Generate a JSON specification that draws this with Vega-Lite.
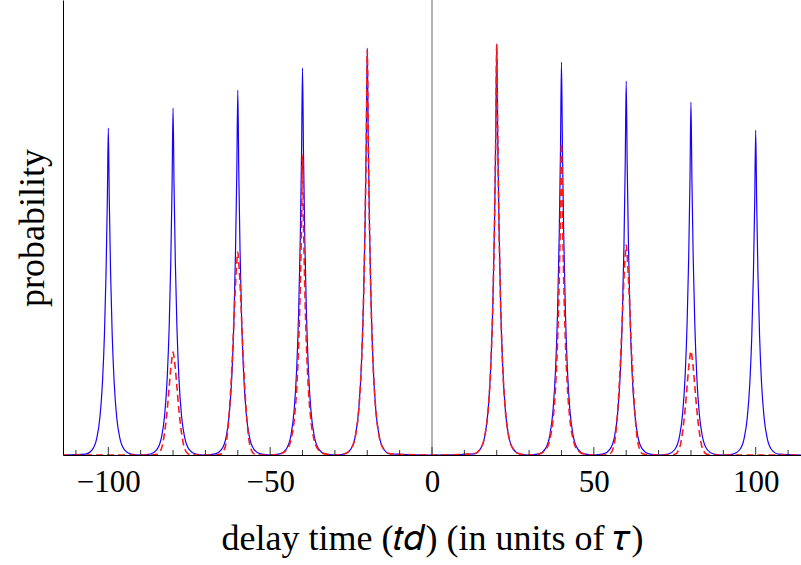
{
  "$schema": "https://vega.github.io/schema/vega-lite/v6.json",
  "autosize": {"type": "none"},
  "padding": {"left": 63, "top": 0, "right": 0, "bottom": 110},
  "width": 738,
  "height": 455,
  "background": "white",
  "config": {"view": {"stroke": null}, "font": "Liberation Serif"},
  "datasets": {
    "blue": [
      {"t":-114,"p":0},
      {"t":-107,"p":0.9},{"t":-105,"p":5.1},{"t":-103.6,"p":16.3},{"t":-102.6,"p":37.5},{"t":-101.8,"p":73.0},{"t":-101.2,"p":120.3},{"t":-100.7,"p":182.5},{"t":-100.3,"p":254.7},{"t":-100,"p":327},{"t":-99.7,"p":254.7},{"t":-99.3,"p":182.5},{"t":-98.8,"p":120.3},{"t":-98.2,"p":73.0},{"t":-97.4,"p":37.5},{"t":-96.4,"p":16.3},{"t":-95,"p":5.1},{"t":-93,"p":0.9},
      {"t":-90,"p":0},
      {"t":-87,"p":1.0},{"t":-85,"p":5.4},{"t":-83.6,"p":17.3},{"t":-82.6,"p":39.8},{"t":-81.8,"p":77.4},{"t":-81.2,"p":127.7},{"t":-80.7,"p":193.6},{"t":-80.3,"p":270.2},{"t":-80,"p":347},{"t":-79.7,"p":270.2},{"t":-79.3,"p":193.6},{"t":-78.8,"p":127.7},{"t":-78.2,"p":77.4},{"t":-77.4,"p":39.8},{"t":-76.4,"p":17.3},{"t":-75,"p":5.4},{"t":-73,"p":1.0},
      {"t":-70,"p":0},
      {"t":-67,"p":1.1},{"t":-65,"p":5.7},{"t":-63.6,"p":18.2},{"t":-62.6,"p":41.8},{"t":-61.8,"p":81.4},{"t":-61.2,"p":134.3},{"t":-60.7,"p":203.7},{"t":-60.3,"p":284.3},{"t":-60,"p":365},{"t":-59.7,"p":284.3},{"t":-59.3,"p":203.7},{"t":-58.8,"p":134.3},{"t":-58.2,"p":81.4},{"t":-57.4,"p":41.8},{"t":-56.4,"p":18.2},{"t":-55,"p":5.7},{"t":-53,"p":1.1},
      {"t":-50,"p":0},
      {"t":-47,"p":1.1},{"t":-45,"p":6.0},{"t":-43.6,"p":19.3},{"t":-42.6,"p":44.4},{"t":-41.8,"p":86.3},{"t":-41.2,"p":142.4},{"t":-40.7,"p":215.9},{"t":-40.3,"p":301.4},{"t":-40,"p":387},{"t":-39.7,"p":301.4},{"t":-39.3,"p":215.9},{"t":-38.8,"p":142.4},{"t":-38.2,"p":86.3},{"t":-37.4,"p":44.4},{"t":-36.4,"p":19.3},{"t":-35,"p":6.0},{"t":-33,"p":1.1},
      {"t":-30,"p":0},
      {"t":-27,"p":1.2},{"t":-25,"p":6.3},{"t":-23.6,"p":20.3},{"t":-22.6,"p":46.6},{"t":-21.8,"p":90.8},{"t":-21.2,"p":149.7},{"t":-20.7,"p":227.1},{"t":-20.3,"p":317.0},{"t":-20,"p":407},{"t":-19.7,"p":317.0},{"t":-19.3,"p":227.1},{"t":-18.8,"p":149.7},{"t":-18.2,"p":90.8},{"t":-17.4,"p":46.6},{"t":-16.4,"p":20.3},{"t":-15,"p":6.3},{"t":-13,"p":1.2},
      {"t":0,"p":0},
      {"t":13,"p":1.2},{"t":15,"p":6.4},{"t":16.4,"p":20.5},{"t":17.4,"p":47.1},{"t":18.2,"p":91.7},{"t":18.8,"p":151.2},{"t":19.3,"p":229.3},{"t":19.7,"p":320.1},{"t":20,"p":411},{"t":20.3,"p":320.1},{"t":20.7,"p":229.3},{"t":21.2,"p":151.2},{"t":21.8,"p":91.7},{"t":22.6,"p":47.1},{"t":23.6,"p":20.5},{"t":25,"p":6.4},{"t":27,"p":1.2},
      {"t":30,"p":0},
      {"t":33,"p":1.1},{"t":35,"p":6.1},{"t":36.4,"p":19.6},{"t":37.4,"p":45.0},{"t":38.2,"p":87.7},{"t":38.8,"p":144.6},{"t":39.3,"p":219.3},{"t":39.7,"p":306.1},{"t":40,"p":393},{"t":40.3,"p":306.1},{"t":40.7,"p":219.3},{"t":41.2,"p":144.6},{"t":41.8,"p":87.7},{"t":42.6,"p":45.0},{"t":43.6,"p":19.6},{"t":45,"p":6.1},{"t":47,"p":1.1},
      {"t":50,"p":0},
      {"t":53,"p":1.1},{"t":55,"p":5.8},{"t":56.4,"p":18.6},{"t":57.4,"p":42.9},{"t":58.2,"p":83.4},{"t":58.8,"p":137.6},{"t":59.3,"p":208.7},{"t":59.7,"p":291.3},{"t":60,"p":374},{"t":60.3,"p":291.3},{"t":60.7,"p":208.7},{"t":61.2,"p":137.6},{"t":61.8,"p":83.4},{"t":62.6,"p":42.9},{"t":63.6,"p":18.6},{"t":65,"p":5.8},{"t":67,"p":1.1},
      {"t":70,"p":0},
      {"t":73,"p":1.0},{"t":75,"p":5.5},{"t":76.4,"p":17.6},{"t":77.4,"p":40.5},{"t":78.2,"p":78.8},{"t":78.8,"p":129.9},{"t":79.3,"p":197.0},{"t":79.7,"p":274.9},{"t":80,"p":353},{"t":80.3,"p":274.9},{"t":80.7,"p":197.0},{"t":81.2,"p":129.9},{"t":81.8,"p":78.8},{"t":82.6,"p":40.5},{"t":83.6,"p":17.6},{"t":85,"p":5.5},{"t":87,"p":1.0},
      {"t":90,"p":0},
      {"t":93,"p":0.9},{"t":95,"p":5.0},{"t":96.4,"p":16.2},{"t":97.4,"p":37.2},{"t":98.2,"p":72.5},{"t":98.8,"p":119.6},{"t":99.3,"p":181.4},{"t":99.7,"p":253.1},{"t":100,"p":325},{"t":100.3,"p":253.1},{"t":100.7,"p":181.4},{"t":101.2,"p":119.6},{"t":101.8,"p":72.5},{"t":102.6,"p":37.2},{"t":103.6,"p":16.2},{"t":105,"p":5.0},{"t":107,"p":0.9},
      {"t":114,"p":0}
    ],
    "red": [
      {"t":-114,"p":0},{"t":-90,"p":0},
      {"t":-87,"p":0},{"t":-85,"p":0.6},{"t":-83.6,"p":6.2},{"t":-82.6,"p":22.7},{"t":-81.8,"p":45.3},{"t":-81.2,"p":68.0},{"t":-80.7,"p":86.5},{"t":-80.3,"p":97.9},{"t":-80,"p":103},{"t":-79.7,"p":97.9},{"t":-79.3,"p":86.5},{"t":-78.8,"p":68.0},{"t":-78.2,"p":45.3},{"t":-77.4,"p":22.7},{"t":-76.4,"p":6.2},{"t":-75,"p":0.6},{"t":-73,"p":0},
      {"t":-70,"p":0},
      {"t":-67,"p":0},{"t":-65,"p":1.2},{"t":-63.6,"p":12.2},{"t":-62.6,"p":44.7},{"t":-61.8,"p":89.3},{"t":-61.2,"p":134.0},{"t":-60.7,"p":170.5},{"t":-60.3,"p":192.9},{"t":-60,"p":203},{"t":-59.7,"p":192.9},{"t":-59.3,"p":170.5},{"t":-58.8,"p":134.0},{"t":-58.2,"p":89.3},{"t":-57.4,"p":44.7},{"t":-56.4,"p":12.2},{"t":-55,"p":1.2},{"t":-53,"p":0},
      {"t":-50,"p":0},
      {"t":-47,"p":0.9},{"t":-45,"p":4.7},{"t":-43.6,"p":14.9},{"t":-42.6,"p":34.4},{"t":-41.8,"p":66.9},{"t":-41.2,"p":110.4},{"t":-40.7,"p":167.4},{"t":-40.3,"p":233.6},{"t":-40,"p":300},{"t":-39.7,"p":233.6},{"t":-39.3,"p":167.4},{"t":-38.8,"p":110.4},{"t":-38.2,"p":66.9},{"t":-37.4,"p":34.4},{"t":-36.4,"p":14.9},{"t":-35,"p":4.7},{"t":-33,"p":0.9},
      {"t":-30,"p":0},
      {"t":-27,"p":1.2},{"t":-25,"p":6.3},{"t":-23.6,"p":20.2},{"t":-22.6,"p":46.4},{"t":-21.8,"p":90.4},{"t":-21.2,"p":149.0},{"t":-20.7,"p":226.0},{"t":-20.3,"p":315.4},{"t":-20,"p":405},{"t":-19.7,"p":315.4},{"t":-19.3,"p":226.0},{"t":-18.8,"p":149.0},{"t":-18.2,"p":90.4},{"t":-17.4,"p":46.4},{"t":-16.4,"p":20.2},{"t":-15,"p":6.3},{"t":-13,"p":1.2},
      {"t":0,"p":0},
      {"t":13,"p":1.2},{"t":15,"p":6.4},{"t":16.4,"p":20.5},{"t":17.4,"p":47.1},{"t":18.2,"p":91.7},{"t":18.8,"p":151.2},{"t":19.3,"p":229.3},{"t":19.7,"p":320.1},{"t":20,"p":411},{"t":20.3,"p":320.1},{"t":20.7,"p":229.3},{"t":21.2,"p":151.2},{"t":21.8,"p":91.7},{"t":22.6,"p":47.1},{"t":23.6,"p":20.5},{"t":25,"p":6.4},{"t":27,"p":1.2},
      {"t":30,"p":0},
      {"t":33,"p":0.9},{"t":35,"p":4.8},{"t":36.4,"p":15.5},{"t":37.4,"p":35.8},{"t":38.2,"p":69.6},{"t":38.8,"p":114.8},{"t":39.3,"p":174.1},{"t":39.7,"p":243.0},{"t":40,"p":312},{"t":40.3,"p":243.0},{"t":40.7,"p":174.1},{"t":41.2,"p":114.8},{"t":41.8,"p":69.6},{"t":42.6,"p":35.8},{"t":43.6,"p":15.5},{"t":45,"p":4.8},{"t":47,"p":0.9},
      {"t":50,"p":0},
      {"t":53,"p":0},{"t":55,"p":1.3},{"t":56.4,"p":12.6},{"t":57.4,"p":46.2},{"t":58.2,"p":92.4},{"t":58.8,"p":138.6},{"t":59.3,"p":176.4},{"t":59.7,"p":199.5},{"t":60,"p":210},{"t":60.3,"p":199.5},{"t":60.7,"p":176.4},{"t":61.2,"p":138.6},{"t":61.8,"p":92.4},{"t":62.6,"p":46.2},{"t":63.6,"p":12.6},{"t":65,"p":1.3},{"t":67,"p":0},
      {"t":70,"p":0},
      {"t":73,"p":0},{"t":75,"p":0.6},{"t":76.4,"p":6.2},{"t":77.4,"p":22.9},{"t":78.2,"p":45.8},{"t":78.8,"p":68.6},{"t":79.3,"p":87.4},{"t":79.7,"p":98.8},{"t":80,"p":104},{"t":80.3,"p":98.8},{"t":80.7,"p":87.4},{"t":81.2,"p":68.6},{"t":81.8,"p":45.8},{"t":82.6,"p":22.9},{"t":83.6,"p":6.2},{"t":85,"p":0.6},{"t":87,"p":0},
      {"t":90,"p":0},{"t":114,"p":0}
    ],
    "major": [{"t":-100},{"t":-50},{"t":0},{"t":50},{"t":100}],
    "minor": [{"t":-110},{"t":-90},{"t":-80},{"t":-70},{"t":-60},{"t":-40},{"t":-30},{"t":-20},{"t":-10},{"t":10},{"t":20},{"t":30},{"t":40},{"t":60},{"t":70},{"t":80},{"t":90},{"t":110}]
  },
  "layer": [
    {
      "data": {"values": [{"t": 0}]},
      "mark": {"type": "rule", "color": "#808080", "strokeWidth": 1.2},
      "encoding": {
        "x": {"field": "t", "type": "quantitative"}
      }
    },
    {
      "data": {"name": "blue"},
      "mark": {"type": "line", "color": "#1a00ff", "strokeWidth": 1.2, "interpolate": "monotone", "clip": true},
      "encoding": {
        "x": {
          "field": "t", "type": "quantitative",
          "scale": {"domain": [-114, 114], "nice": false, "zero": false},
          "axis": {
            "orient": "bottom", "zindex": 1,
            "values": [-100, -50, 0, 50, 100],
            "title": "delay time (𝑡𝑑) (in units of 𝜏)",
            "titleFont": "Liberation Serif", "titleFontSize": 36, "titleFontWeight": "normal", "titleColor": "black",
            "titlePadding": 24,
            "labelFont": "Liberation Serif", "labelFontSize": 31, "labelColor": "black", "labelPadding": 12,
            "ticks": false,
            "domain": true, "domainColor": "black", "domainWidth": 1, "grid": false
          }
        },
        "y": {
          "field": "p", "type": "quantitative",
          "scale": {"domain": [0, 455], "nice": false},
          "axis": {
            "title": "probability", "labels": false, "ticks": false, "grid": false, "zindex": 1,
            "titleFont": "Liberation Serif", "titleFontSize": 36, "titleFontWeight": "normal", "titleColor": "black",
            "titlePadding": 12, "domainColor": "black", "domainWidth": 1
          }
        }
      }
    },
    {
      "data": {"name": "red"},
      "mark": {"type": "line", "color": "#ff1a1a", "strokeWidth": 1.6, "strokeDash": [7, 4], "interpolate": "monotone", "clip": true},
      "encoding": {
        "x": {"field": "t", "type": "quantitative"},
        "y": {"field": "p", "type": "quantitative"}
      }
    },
    {
      "data": {"name": "major"},
      "mark": {"type": "rule", "color": "#333333", "strokeWidth": 1},
      "encoding": {
        "x": {"field": "t", "type": "quantitative"},
        "y": {"datum": 0, "type": "quantitative"},
        "y2": {"datum": 8}
      }
    },
    {
      "data": {"name": "minor"},
      "mark": {"type": "rule", "color": "#333333", "strokeWidth": 1},
      "encoding": {
        "x": {"field": "t", "type": "quantitative"},
        "y": {"datum": 0, "type": "quantitative"},
        "y2": {"datum": 5}
      }
    }
  ]
}
